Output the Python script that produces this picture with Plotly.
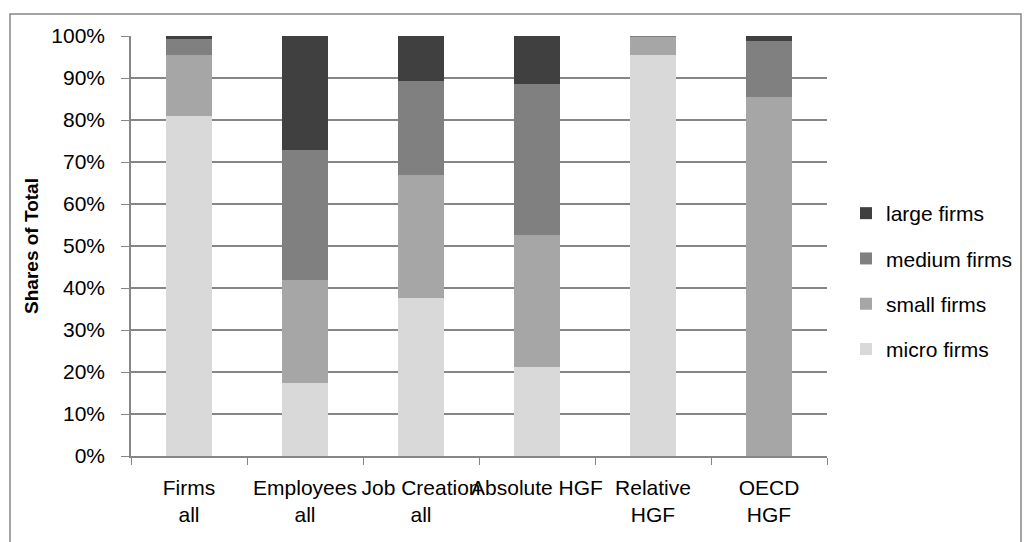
import plotly.graph_objects as go

categories = ["Firms<br>all", "Employees<br>all", "Job Creation<br>all",
              "Absolute HGF", "Relative<br>HGF", "OECD<br>HGF"]
micro = [80.9, 17.5, 37.7, 21.2, 95.5, 0.0]
small = [14.6, 24.4, 29.2, 31.4, 4.3, 85.5]
medium = [3.8, 31.0, 22.4, 36.0, 0.2, 13.4]
large = [0.7, 27.1, 10.7, 11.4, 0.0, 1.1]

series_names = ["micro firms", "small firms", "medium firms", "large firms"]
series_values = [micro, small, medium, large]
colors = ["#d9d9d9", "#a6a6a6", "#808080", "#404040"]

FONT = "Liberation Sans, Arial, sans-serif"

fig = go.Figure()
n = len(series_names)
for i, (name, vals, col) in enumerate(zip(series_names, series_values, colors)):
    fig.add_trace(go.Bar(
        x=categories, y=[v / 100 for v in vals], name=name,
        marker=dict(color=col, line=dict(width=0)),
        legendgroup=name, legendrank=n - i,
    ))

W, H = 1029, 542
L, R, T, B = 131, 827, 36, 456
pw, ph = R - L, B - T

def px_x(p):
    return (p - L) / pw

def px_y(p):
    return (B - p) / ph

fig.update_layout(
    width=W, height=H,
    margin=dict(l=L, r=W - R, t=T, b=H - B, pad=0, autoexpand=False),
    barmode="stack", bargap=0.6,
    plot_bgcolor="white", paper_bgcolor="white",
    font=dict(family=FONT, size=21, color="#000000"),
    showlegend=True,
    legend=dict(
        traceorder="grouped", tracegroupgap=15,
        x=px_x(846), xanchor="left", y=px_y(193), yanchor="top",
        font=dict(size=21, family=FONT), itemwidth=30,
        bgcolor="rgba(0,0,0,0)",
    ),
    xaxis=dict(
        type="category", showgrid=False, showline=True, linecolor="#868686",
        linewidth=1.5, ticks="outside", ticklen=7, tickcolor="#868686",
        tickson="boundaries", ticklabelstandoff=12, tickangle=0, automargin=False,
        tickfont=dict(size=21, family=FONT),
    ),
    yaxis=dict(
        range=[0, 1], tickvals=[i / 10 for i in range(11)], tickformat=".0%",
        showgrid=True, gridcolor="#868686", gridwidth=1.5,
        showline=True, linecolor="#868686", linewidth=1.5,
        ticks="outside", ticklen=8, tickcolor="#868686",
        ticklabelstandoff=12, zeroline=False, automargin=False,
        tickfont=dict(size=21, family=FONT),
        title=dict(text="<b>Shares of Total</b>", font=dict(size=19, family=FONT), standoff=8),
    ),
    shapes=[dict(
        type="rect", xref="paper", yref="paper",
        x0=px_x(10), x1=px_x(1021), y0=px_y(560), y1=px_y(14),
        line=dict(color="#868686", width=1.5), fillcolor="rgba(0,0,0,0)", layer="below",
    )],
)

fig.write_html("out.html")
